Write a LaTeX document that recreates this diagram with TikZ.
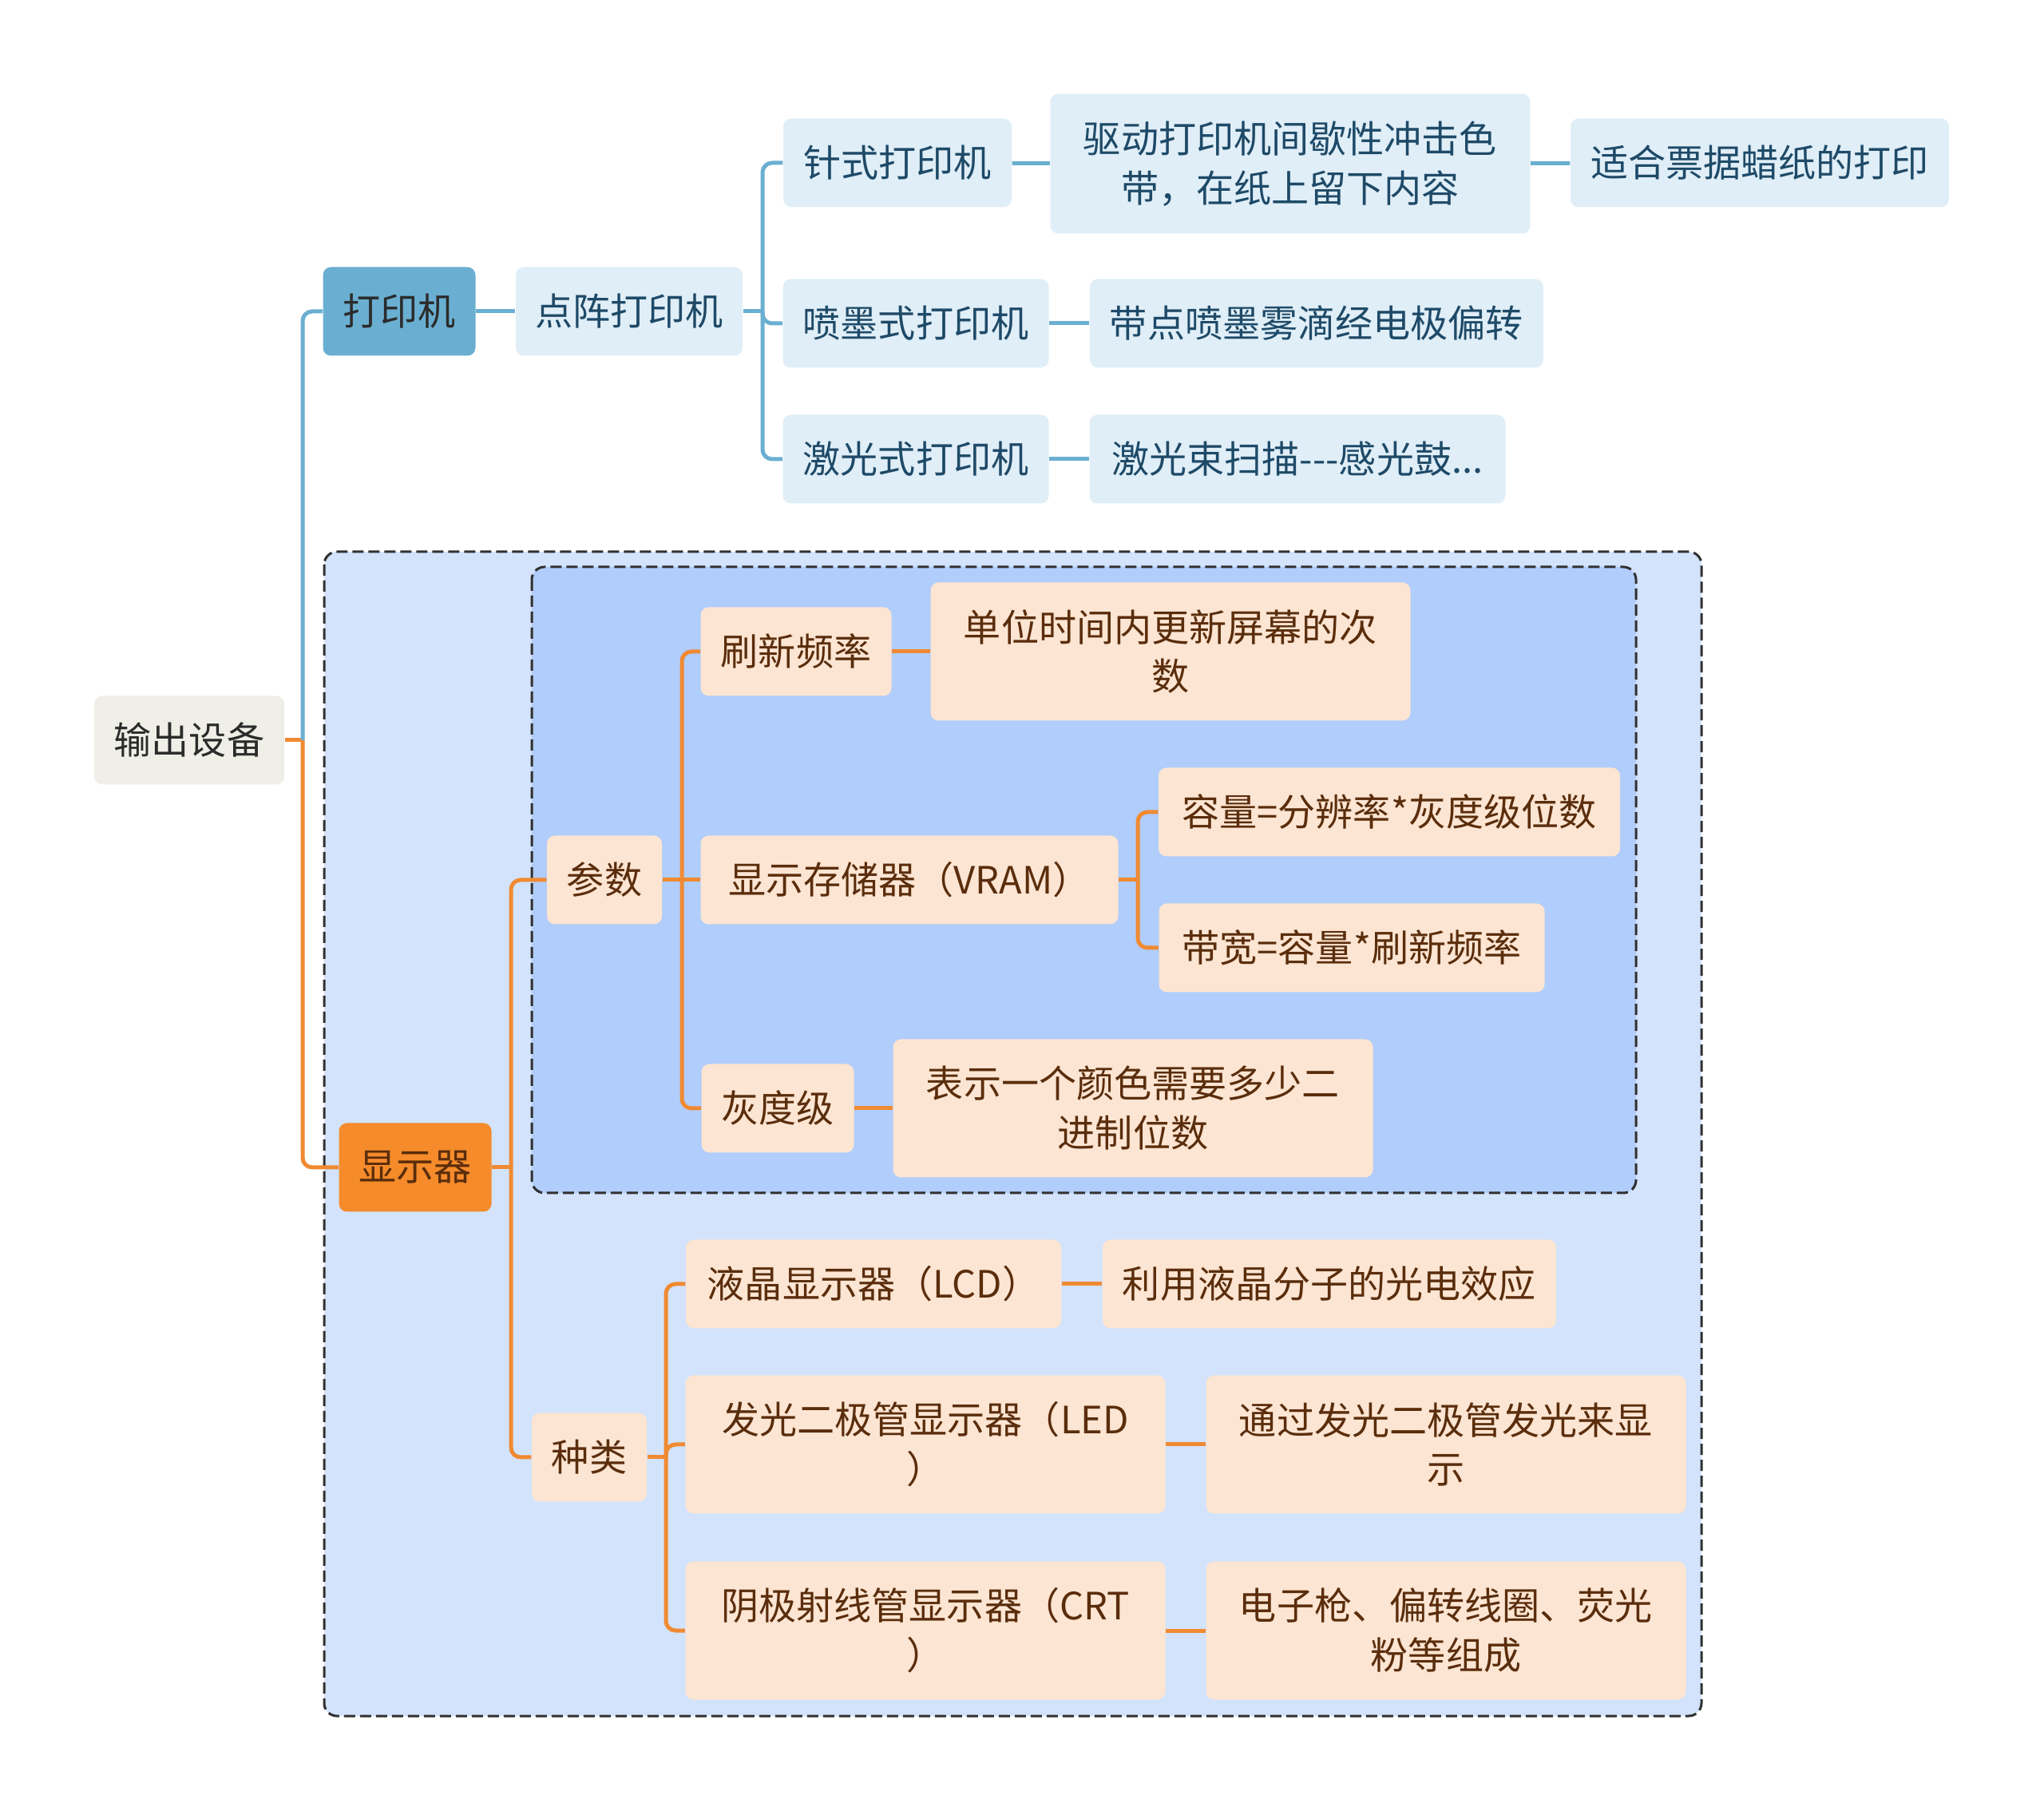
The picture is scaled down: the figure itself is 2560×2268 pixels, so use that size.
\documentclass[tikz,border=0pt]{standalone}
\usepackage{fontspec}
\setmainfont{Noto Sans CJK SC}
\definecolor{rootgray}{HTML}{EFEFE7}
\definecolor{inkdark}{HTML}{2B2B2B}
\definecolor{printblue}{HTML}{6AAFD1}
\definecolor{paleblue}{HTML}{E0EEF7}
\definecolor{navyink}{HTML}{1E4A68}
\definecolor{linkblue}{HTML}{6AAFD1}
\definecolor{dispor}{HTML}{F58B2B}
\definecolor{peach}{HTML}{FCE5D2}
\definecolor{brownink}{HTML}{5A2D0C}
\definecolor{linkor}{HTML}{F08A32}
\definecolor{outerfill}{HTML}{D3E3FC}
\definecolor{innerfill}{HTML}{B1CDFB}
\definecolor{boxline}{HTML}{303030}

\begin{document}
\begin{tikzpicture}[
    x=0.1mm, y=-0.1mm,
    every node/.style={rounded corners=1mm, inner sep=0pt, align=center,
      font=\fontsize{13.4pt}{17.6pt}\selectfont},
    rootbox/.style={fill=rootgray, text=inkdark},
    printbox/.style={fill=printblue, text=inkdark},
    printleaf/.style={fill=paleblue, text=navyink},
    dispbox/.style={fill=dispor, text=brownink},
    displeaf/.style={fill=peach, text=brownink},
    blueline/.style={draw=linkblue, line width=0.5mm, rounded corners=1.2mm},
    orline/.style={draw=linkor, line width=0.5mm, rounded corners=1.2mm},
    groupbox/.style={draw=boxline, line width=0.3mm, rounded corners=1.6mm,
      dash pattern=on 1.4mm off 0.6mm}
]
  \useasboundingbox (0,0) rectangle (2560,2268);

  %--- dashed groups ---
  \draw[groupbox, fill=outerfill] (406,691) rectangle (2131,2149);
  \draw[groupbox, fill=innerfill] (666,710) rectangle (2049,1494);

  %--- exact positions ---
  \node[rootbox, minimum width=23.8mm, minimum height=11.1mm] (out) at (237,927) {输出设备};

  \node[printbox, minimum width=19.1mm, minimum height=11.1mm] (prn) at (500,390) {打印机};
  \node[printleaf, minimum width=28.4mm, minimum height=11.1mm] (dot) at (788,390) {点阵打印机};
  \node[printleaf, minimum width=28.6mm, minimum height=11.1mm] (pin) at (1124,204) {针式打印机};
  \node[printleaf, minimum width=60.1mm, minimum height=17.5mm] (pinA) at (1616,205) {驱动打印机间歇性冲击色\\带，在纸上留下内容};
  \node[printleaf, minimum width=47.4mm, minimum height=11.1mm] (pinB) at (2204,204) {适合票据蜡纸的打印};
  \node[printleaf, minimum width=33.3mm, minimum height=11.1mm] (ink) at (1147,405) {喷墨式打印机};
  \node[printleaf, minimum width=56.8mm, minimum height=11.1mm] (inkA) at (1649,405) {带点喷墨雾滴经电极偏转};
  \node[printleaf, minimum width=33.3mm, minimum height=11.1mm] (las) at (1147,575) {激光式打印机};
  \node[printleaf, minimum width=52.1mm, minimum height=11.1mm] (lasA) at (1625,575) {激光束扫描{-}{-}{-}感光鼓...};

  \node[dispbox, minimum width=19.1mm, minimum height=11.1mm] (disp) at (520,1462) {显示器};
  \node[displeaf, minimum width=14.4mm, minimum height=11.1mm] (par) at (757,1102) {参数};
  \node[displeaf, minimum width=23.9mm, minimum height=11.1mm] (rate) at (997,816) {刷新频率};
  \node[displeaf, minimum width=60.1mm, minimum height=17.3mm] (rateA) at (1466,816) {单位时间内更新屏幕的次\\数};
  \node[displeaf, minimum width=52.3mm, minimum height=11.1mm] (vram) at (1139,1102) {显示存储器（VRAM）};
  \node[displeaf, minimum width=57.8mm, minimum height=11.1mm] (cap) at (1740,1017) {容量=分辨率*灰度级位数};
  \node[displeaf, minimum width=48.3mm, minimum height=11.1mm] (bw) at (1693,1187) {带宽=容量*刷新频率};
  \node[displeaf, minimum width=19.1mm, minimum height=11.1mm] (gray) at (974,1388) {灰度级};
  \node[displeaf, minimum width=60.1mm, minimum height=17.3mm] (grayA) at (1419,1388) {表示一个颜色需要多少二\\进制位数};

  \node[displeaf, minimum width=14.4mm, minimum height=11.1mm] (kind) at (738,1825) {种类};
  \node[displeaf, minimum width=47mm, minimum height=11.1mm] (lcd) at (1094,1608) {液晶显示器（LCD）};
  \node[displeaf, minimum width=56.8mm, minimum height=11.1mm] (lcdA) at (1665,1608) {利用液晶分子的光电效应};
  \node[displeaf, minimum width=60.1mm, minimum height=17.3mm] (led) at (1159,1809) {发光二极管显示器（LED\\）};
  \node[displeaf, minimum width=60.1mm, minimum height=17.3mm] (ledA) at (1811,1809) {通过发光二极管发光来显\\示};
  \node[displeaf, minimum width=60.1mm, minimum height=17.3mm] (crt) at (1159,2042) {阴极射线管显示器（CRT\\）};
  \node[displeaf, minimum width=60.1mm, minimum height=17.3mm] (crtA) at (1811,2042) {电子枪、偏转线圈、荧光\\粉等组成};

  %--- junctions ---
  \coordinate (j0) at (379,927);
  \coordinate (j1) at (955,390);
  \coordinate (j2) at (640,1462);
  \coordinate (j3) at (854,1102);
  \coordinate (j4) at (1425,1102);
  \coordinate (j5) at (834,1825);

  %--- edges ---
  \draw[orline] (out.east) -- (j0);
  \draw[blueline] (j0) |- (prn.west);
  \draw[orline] (j0) |- (disp.west);

  \draw[blueline] (prn) -- (dot);
  \draw[blueline] (dot.east) -- (j1);
  \draw[blueline] (j1) |- (pin.west);
  \draw[blueline] (j1) |- (ink.west);
  \draw[blueline] (j1) |- (las.west);
  \draw[blueline] (pin) -- (pinA);
  \draw[blueline] (pinA) -- (pinB);
  \draw[blueline] (ink) -- (inkA);
  \draw[blueline] (las) -- (lasA);

  \draw[orline] (disp.east) -- (j2);
  \draw[orline] (j2) |- (par.west);
  \draw[orline] (j2) |- (kind.west);
  \draw[orline] (par.east) -- (j3);
  \draw[orline] (j3) |- (rate.west);
  \draw[orline] (j3) -- (vram.west);
  \draw[orline] (j3) |- (gray.west);
  \draw[orline] (rate) -- (rateA);
  \draw[orline] (gray) -- (grayA);
  \draw[orline] (vram.east) -- (j4);
  \draw[orline] (j4) |- (cap.west);
  \draw[orline] (j4) |- (bw.west);
  \draw[orline] (kind.east) -- (j5);
  \draw[orline] (j5) |- (lcd.west);
  \draw[orline] (j5) |- (led.west);
  \draw[orline] (j5) |- (crt.west);
  \draw[orline] (lcd) -- (lcdA);
  \draw[orline] (led) -- (ledA);
  \draw[orline] (crt) -- (crtA);
\end{tikzpicture}
\end{document}
